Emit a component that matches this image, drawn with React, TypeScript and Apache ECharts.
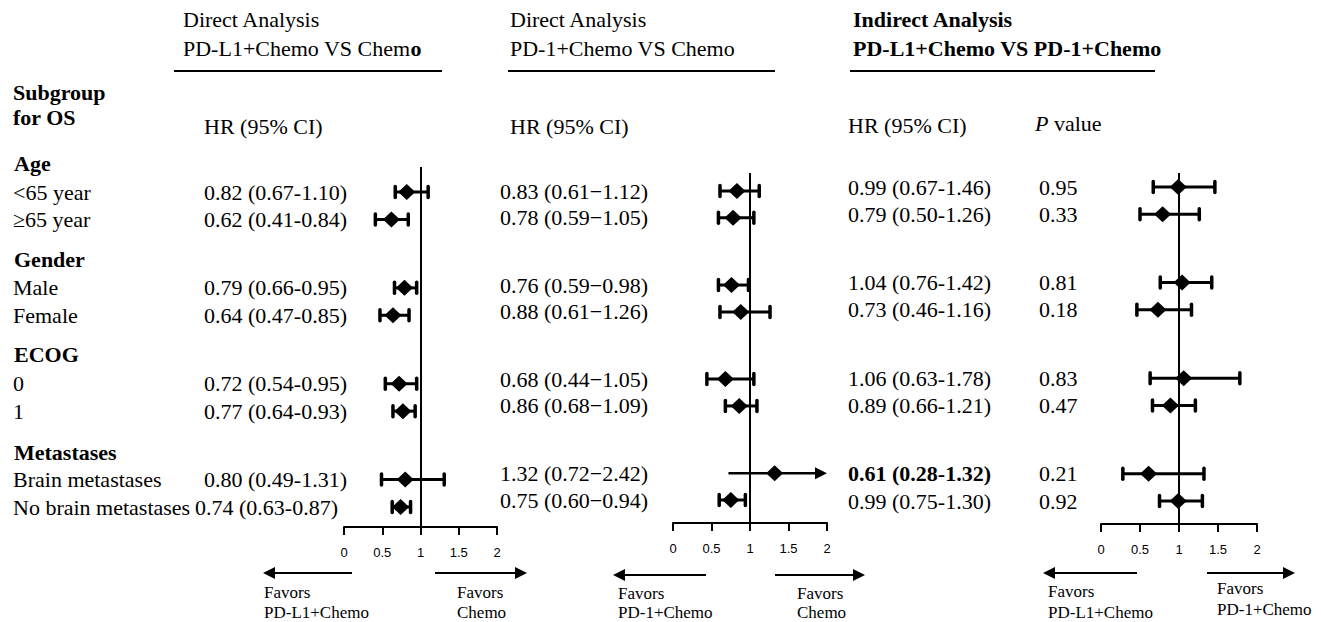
import React, { useEffect, useRef } from "react";
import * as echarts from "echarts";

// ---------------- data ----------------
const groupNames = ["Age", "Gender", "ECOG", "Metastases"];
const rowLabels = ["<65 year", "\u226565 year", "Male", "Female", "0", "1", "Brain metastases", "No brain metastases"];
const rowGroup = [0, 0, 1, 1, 2, 2, 3, 3];

const pdl1HR = [0.82, 0.62, 0.79, 0.64, 0.72, 0.77, 0.8, 0.74];
const pdl1Lo = [0.67, 0.41, 0.66, 0.47, 0.54, 0.64, 0.49, 0.63];
const pdl1Hi = [1.1, 0.84, 0.95, 0.85, 0.95, 0.93, 1.31, 0.87];

const pd1HR = [0.83, 0.78, 0.76, 0.88, 0.68, 0.86, 1.32, 0.75];
const pd1Lo = [0.61, 0.59, 0.59, 0.61, 0.44, 0.68, 0.72, 0.6];
const pd1Hi = [1.12, 1.05, 0.98, 1.26, 1.05, 1.09, 2.42, 0.94];

const indHR = [0.99, 0.79, 1.04, 0.73, 1.06, 0.89, 0.61, 0.99];
const indLo = [0.67, 0.5, 0.76, 0.46, 0.63, 0.66, 0.28, 0.75];
const indHi = [1.46, 1.26, 1.42, 1.16, 1.78, 1.21, 1.32, 1.3];
const indPValues = ["0.95", "0.33", "0.81", "0.18", "0.83", "0.47", "0.21", "0.92"];
const indBoldRow = 6;

const xTicks = [0, 0.5, 1, 1.5, 2];

// ---------------- layout ----------------
const SERIF = '"Liberation Serif", "Times New Roman", Times, serif';
const SANS = '"Liberation Sans", Arial, Helvetica, sans-serif';
const FS = 22;
const X_MIN = xTicks[0];
const X_MAX = xTicks[xTicks.length - 1];
const LAST_SLOT = 11.5;

const slotOf = (i: number) => i + rowGroup[i] * 1.5;

const panels = [
  {
    left: 344, right: 497, top: 167, base: 527, y0: 192, y1: 507,
    hr: pdl1HR, lo: pdl1Lo, hi: pdl1Hi, sep: "-", textX: 204,
    title1: "Direct Analysis", title2: "PD-L1+Chemo VS Chem{b|o}", bold: false,
    titleX: 183, lineX1: 174, lineX2: 442, hrX: 204, hrY: 126,
    leftArrow: [263, 352, 573], rightArrow: [435, 527, 573],
    favL: ["Favors", "PD-L1+Chemo"], favLX: 264, favLY: [592, 612],
    favR: ["Favors", "Chemo"], favRX: 457, favRY: [592, 612],
  },
  {
    left: 673, right: 827, top: 173, base: 523, y0: 191, y1: 500,
    hr: pd1HR, lo: pd1Lo, hi: pd1Hi, sep: "\u2212", textX: 500,
    title1: "Direct Analysis", title2: "PD-1+Chemo VS Chemo", bold: false,
    titleX: 510, lineX1: 508, lineX2: 775, hrX: 510, hrY: 126,
    leftArrow: [613, 706, 575], rightArrow: [775, 865, 575],
    favL: ["Favors", "PD-1+Chemo"], favLX: 618, favLY: [593, 612],
    favR: ["Favors", "Chemo"], favRX: 797, favRY: [593, 612],
  },
  {
    left: 1101, right: 1257, top: 173, base: 524, y0: 187, y1: 501,
    hr: indHR, lo: indLo, hi: indHi, sep: "-", textX: 848,
    title1: "Indirect Analysis", title2: "PD-L1+Chemo VS PD-1+Chemo", bold: true,
    titleX: 853, lineX1: 850, lineX2: 1155, hrX: 848, hrY: 125,
    leftArrow: [1043, 1137, 573], rightArrow: [1207, 1295, 573],
    favL: ["Favors", "PD-L1+Chemo"], favLX: 1048, favLY: [591, 612],
    favR: ["Favors", "PD-1+Chemo"], favRX: 1217, favRY: [588, 609],
  },
];

const slope = (p: any) => (p.y1 - p.y0) / LAST_SLOT;
const rowY = (p: any, i: number) => p.y0 + slotOf(i) * slope(p);

const groupHeaderY = [163, 259, 354, 452];

function txt(text: string, x: number, y: number, opts: any = {}) {
  return {
    type: "text",
    x,
    y,
    silent: true,
    style: {
      text,
      fill: "#000",
      fontFamily: SERIF,
      fontSize: opts.fontSize || FS,
      fontWeight: opts.bold ? "bold" : "normal",
      fontStyle: opts.italic ? "italic" : "normal",
      align: opts.align || "left",
      verticalAlign: "middle",
      rich: opts.rich,
    },
  };
}

function line(x1: number, y1: number, x2: number, y2: number, w = 2) {
  return { type: "line", silent: true, shape: { x1, y1, x2, y2 }, style: { stroke: "#000", lineWidth: w } };
}

function tri(points: number[][]) {
  return { type: "polygon", silent: true, shape: { points }, style: { fill: "#000" } };
}

function buildGraphic() {
  const g: any[] = [];
  g.push(txt("Subgroup", 13, 92, { bold: true }));
  g.push(txt("for OS", 13, 117, { bold: true }));
  groupNames.forEach((n, k) => g.push(txt(n, 14, groupHeaderY[k], { bold: true })));
  const p0 = panels[0];
  rowLabels.forEach((lab, i) => g.push(txt(lab, 13, rowY(p0, i))));

  panels.forEach((p, pi) => {
    const rich = {
      b: { fontWeight: "bold", fontFamily: SERIF, fontSize: FS, fill: "#000" },
    };
    g.push(txt(p.title1, p.titleX, 19, { bold: p.bold }));
    g.push(txt(p.title2, p.titleX, 48, { bold: p.bold, rich }));
    g.push(line(p.lineX1, 71, p.lineX2, 71, 2));
    g.push(txt("HR (95% CI)", p.hrX, p.hrY));
    p.hr.forEach((v: number, i: number) => {
      const s = `${v.toFixed(2)} (${p.lo[i].toFixed(2)}${p.sep}${p.hi[i].toFixed(2)})`;
      let x = p.textX;
      if (pi === 0 && i === rowLabels.length - 1) x = 195;
      g.push(txt(s, x, rowY(p, i), { bold: pi === 2 && i === indBoldRow }));
    });
    const [lt, le, ly] = p.leftArrow;
    g.push(line(lt + 8, ly, le, ly, 2));
    g.push(tri([[lt, ly], [lt + 12, ly - 6], [lt + 12, ly + 6]]));
    const [rs, rt, ry] = p.rightArrow;
    g.push(line(rs, ry, rt - 8, ry, 2));
    g.push(tri([[rt, ry], [rt - 12, ry - 6], [rt - 12, ry + 6]]));
    g.push(txt(p.favL[0], p.favLX, p.favLY[0], { fontSize: 17 }));
    g.push(txt(p.favL[1], p.favLX, p.favLY[1], { fontSize: 17 }));
    g.push(txt(p.favR[0], p.favRX, p.favRY[0], { fontSize: 17 }));
    g.push(txt(p.favR[1], p.favRX, p.favRY[1], { fontSize: 17 }));
  });

  const p2 = panels[2];
  g.push(txt("{i|P} value", 1035, 123, {
    rich: { i: { fontStyle: "italic", fontFamily: SERIF, fontSize: FS, fill: "#000" } },
  }));
  indPValues.forEach((v, i) => g.push(txt(v, 1039, rowY(p2, i))));
  return g;
}

function buildOption() {
  const grid: any[] = [];
  const xAxis: any[] = [];
  const yAxis: any[] = [];
  const series: any[] = [];
  panels.forEach((p, k) => {
    const sl = slope(p);
    grid.push({
      left: p.left,
      top: p.top,
      width: p.right - p.left,
      height: p.base - p.top,
      outerBoundsMode: "none",
      containLabel: false,
    });
    xAxis.push({
      type: "value",
      gridIndex: k,
      position: "bottom",
      min: X_MIN,
      max: X_MAX,
      interval: 0.5,
      splitLine: { show: false },
      axisLine: { show: true, onZero: false, lineStyle: { color: "#000", width: 2 } },
      axisTick: { show: true, length: 8, lineStyle: { color: "#000", width: 2 } },
      axisLabel: {
        show: true,
        color: "#000",
        fontFamily: SANS,
        fontSize: 13,
        margin: 19,
        formatter: (v: number) => String(v),
      },
    });
    yAxis.push({
      type: "value",
      gridIndex: k,
      inverse: true,
      min: (p.top - p.y0) / sl,
      max: (p.base - p.y0) / sl,
      show: false,
      axisLine: { show: false, onZero: false },
      splitLine: { show: false },
    });
    series.push({
      type: "custom",
      xAxisIndex: k,
      yAxisIndex: k,
      silent: true,
      clip: false,
      encode: { x: [1, 2], y: 0 },
      data: p.hr.map((_: number, i: number) => [slotOf(i), p.lo[i], p.hi[i]]),
      renderItem: (params: any, api: any) => {
        const s = api.value(0);
        const lo = api.value(1);
        const hi = api.value(2);
        const trunc = hi > X_MAX;
        const a = api.coord([lo, s]);
        const b = api.coord([Math.min(hi, X_MAX), s]);
        const children: any[] = [];
        children.push({
          type: "line",
          shape: { x1: a[0], y1: a[1], x2: trunc ? b[0] - 8 : b[0], y2: b[1] },
          style: { stroke: "#000", lineWidth: trunc ? 2.5 : 3 },
        });
        if (trunc) {
          children.push({
            type: "polygon",
            shape: { points: [[b[0], b[1]], [b[0] - 12, b[1] - 6], [b[0] - 12, b[1] + 6]] },
            style: { fill: "#000" },
          });
        } else {
          [a, b].forEach((pt) =>
            children.push({
              type: "line",
              shape: { x1: pt[0], y1: pt[1] - 5.5, x2: pt[0], y2: pt[1] + 5.5 },
              style: { stroke: "#000", lineWidth: 3.5, lineCap: "round" },
            })
          );
        }
        return { type: "group", children };
      },
    });
    series.push({
      type: "scatter",
      xAxisIndex: k,
      yAxisIndex: k,
      silent: true,
      symbol: "diamond",
      symbolSize: [17, 16],
      itemStyle: { color: "#000", opacity: 1 },
      data: p.hr.map((v: number, i: number) => [v, slotOf(i)]),
      markLine: {
        silent: true,
        symbol: ["none", "none"],
        label: { show: false },
        lineStyle: { color: "#000", width: 2, type: "solid", opacity: 1 },
        data: [{ xAxis: 1 }],
      },
      z: 3,
    });
  });
  return {
    animation: false,
    backgroundColor: "#fff",
    tooltip: { show: false },
    grid,
    xAxis,
    yAxis,
    series,
    graphic: buildGraphic(),
  };
}

export default function App() {
  const ref = useRef<HTMLDivElement>(null);
  useEffect(() => {
    document.body.style.margin = "0";
    if (!ref.current) return;
    const chart = echarts.init(ref.current, null, { renderer: "svg" });
    chart.setOption(buildOption() as any);
    return () => chart.dispose();
  }, []);
  return (
    <div style={{ position: "fixed", left: 0, top: 0, width: 1321, height: 622, background: "#fff" }}>
      <div ref={ref} style={{ width: 1321, height: 622 }} />
    </div>
  );
}
